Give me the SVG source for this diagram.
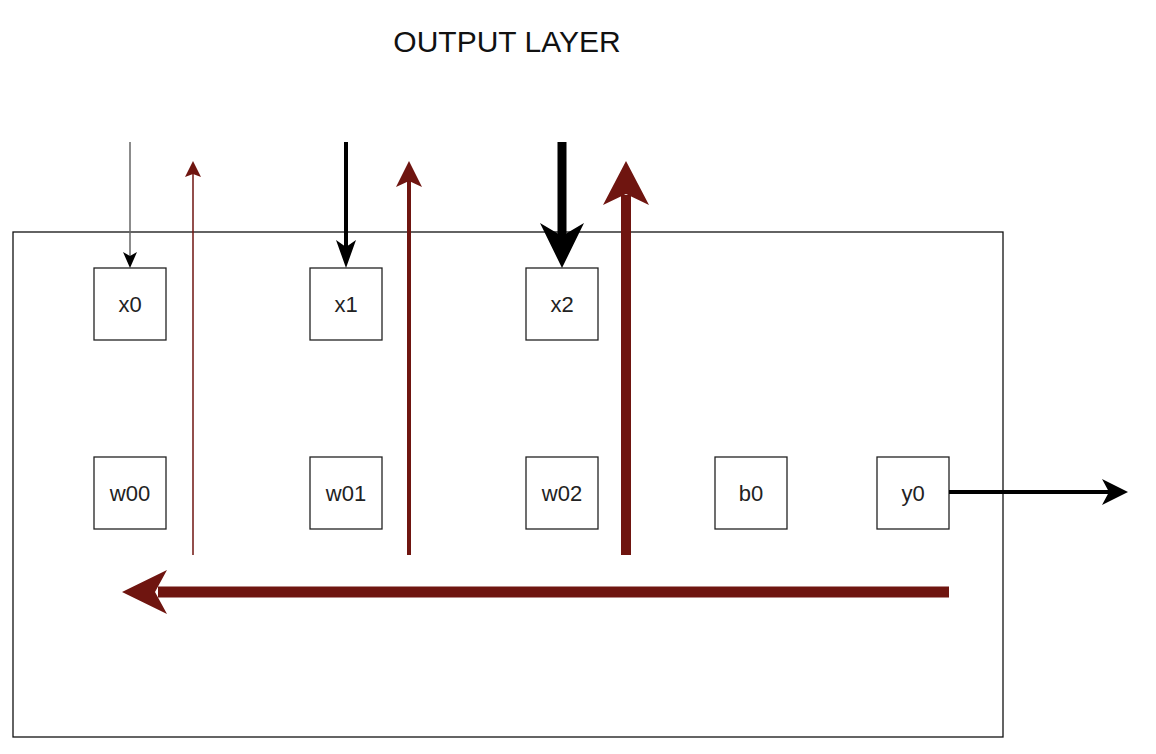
<svg xmlns="http://www.w3.org/2000/svg" width="1156" height="754" viewBox="0 0 1156 754">
<style>
.box{fill:#fff;stroke:#222;stroke-width:1.3}
.lbl{font-family:"Liberation Sans",Arial,sans-serif;font-size:22px;fill:#222;text-anchor:middle}
.title{font-family:"Liberation Sans",Arial,sans-serif;font-size:30px;fill:#111;text-anchor:middle}
.red{fill:#6f1510}
.blk{fill:#000}
</style>
<rect width="1156" height="754" fill="#fff"/>
<text class="title" x="507" y="52">OUTPUT LAYER</text>
<g id="layer"><rect x="13" y="232" width="990" height="505" fill="none" stroke="#111" stroke-width="1.3"/></g>
<g id="x0"><rect class="box" x="94" y="268" width="72" height="72"/><text class="lbl" x="130" y="312">x0</text></g>
<g id="x1"><rect class="box" x="310" y="268" width="72" height="72"/><text class="lbl" x="346" y="312">x1</text></g>
<g id="x2"><rect class="box" x="526" y="268" width="72" height="72"/><text class="lbl" x="562" y="312">x2</text></g>
<g id="w00"><rect class="box" x="94" y="457" width="72" height="72"/><text class="lbl" x="130" y="501">w00</text></g>
<g id="w01"><rect class="box" x="310" y="457" width="72" height="72"/><text class="lbl" x="346" y="501">w01</text></g>
<g id="w02"><rect class="box" x="526" y="457" width="72" height="72"/><text class="lbl" x="562" y="501">w02</text></g>
<g id="b0"><rect class="box" x="715" y="457" width="72" height="72"/><text class="lbl" x="751" y="501">b0</text></g>
<g id="y0"><rect class="box" x="877" y="457" width="72" height="72"/><text class="lbl" x="913" y="501">y0</text></g>
<g id="connectors">
<line x1="130" y1="142" x2="130" y2="256" stroke="#666" stroke-width="1.5"/>
<path class="blk" d="M130 268 L123 252 L130 256 L137 252 Z"/>
<line x1="346" y1="142" x2="346" y2="250" stroke="#000" stroke-width="4"/>
<path class="blk" d="M346 268 L336 240 L346 247 L356 240 Z"/>
<line x1="562" y1="142" x2="562" y2="240" stroke="#000" stroke-width="9"/>
<path class="blk" d="M562 268 L540 223 L562 236 L584 223 Z"/>
<line x1="193" y1="555" x2="193" y2="172" stroke="#6f1510" stroke-width="1.5"/>
<path class="red" d="M193 161 L185 177 L193 174 L201 177 Z"/>
<line x1="409" y1="555" x2="409" y2="180" stroke="#6f1510" stroke-width="4"/>
<path class="red" d="M409 161 L396 187 L409 181 L422 187 Z"/>
<line x1="626" y1="555" x2="626" y2="195" stroke="#6f1510" stroke-width="10"/>
<path class="red" d="M626 161 L603 205 L626 194 L649 205 Z"/>
<line x1="949" y1="592" x2="158" y2="592" stroke="#6f1510" stroke-width="11"/>
<path class="red" d="M122 592 L167 570 L155 592 L167 614 Z"/>
<line x1="949" y1="492" x2="1110" y2="492" stroke="#000" stroke-width="4"/>
<path class="blk" d="M1128 492 L1102 479 L1109 492 L1102 505 Z"/>
</g>
</svg>
